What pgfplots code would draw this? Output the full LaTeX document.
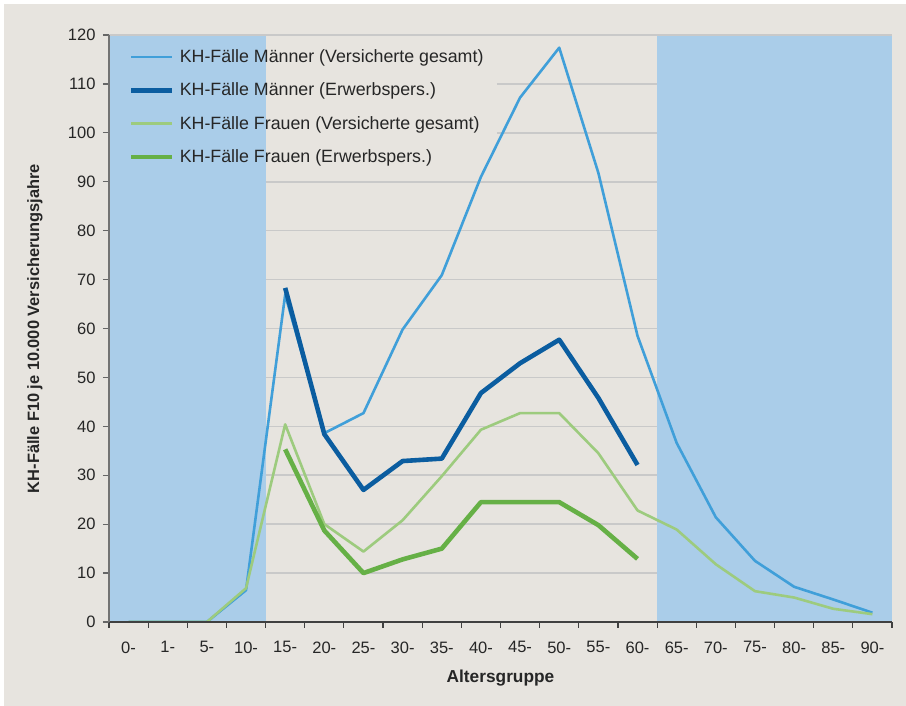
\documentclass[border=0pt]{standalone}
\usepackage{fontspec}
\setmainfont{Liberation Sans}
\usepackage{pgfplots}
\pgfplotsset{compat=1.18}
\definecolor{bgc}{HTML}{E7E4DF}
\definecolor{regc}{HTML}{AACDE9}
\definecolor{gridc}{HTML}{C9C9C9}
\definecolor{lblue}{HTML}{409FD9}
\definecolor{dblue}{HTML}{0B5DA0}
\definecolor{lgreen}{HTML}{9DCB7E}
\definecolor{dgreen}{HTML}{66B046}
\definecolor{txtc}{HTML}{262626}
\begin{document}
\begin{tikzpicture}[x=1pt,y=1pt]
\fill[white] (-109,-84) rectangle (797,622);
\fill[bgc] (-105,-84) rectangle (797,618);
\begin{axis}[
  at={(0,0)}, anchor=south west,
  scale only axis, width=783pt, height=587pt,
  xmin=-0.5, xmax=19.5, ymin=0, ymax=120,
  axis on top,
  axis x line*=bottom, axis y line*=left,
  x axis line style={-, draw=black!75, line width=1.3pt},
  y axis line style={-, draw=black!55, line width=1.3pt},
  xtick={0,...,19},
  xticklabels={0-,1-,5-,10-,15-,20-,25-,30-,35-,40-,45-,50-,55-,60-,65-,70-,75-,80-,85-,90-},
  major x tick style={draw=none},
  minor xtick={-0.5,0.5,...,19.5},
  minor x tick style={draw=black!75, line width=1.2pt},
  ytick={0,10,...,120},
  major y tick style={draw=black!60, line width=1.2pt},
  tick align=outside,
  major tick length=6pt, minor tick length=6pt,
  tick label style={font=\fontsize{16.5}{19}\selectfont, text=txtc},
  /pgf/number format/assume math mode=true,
  xticklabel style={yshift=-10pt},
  yticklabel style={xshift=-4pt},
  xlabel={\bfseries Altersgruppe},
  ylabel={\bfseries KH-Fälle F10 je 10.000 Versicherungsjahre},
  label style={text=txtc},
  xlabel style={font=\fontsize{17.3}{19}\selectfont, at={(axis description cs:0.5,-0.0954)}, anchor=center},
  ylabel style={font=\fontsize{16.4}{19}\selectfont, at={(axis description cs:-0.0945,0.5)}, anchor=center},
  legend style={at={(axis description cs:0,1)}, anchor=north west, xshift=17pt, yshift=-10.5pt,
    draw=none, fill=none, font=\fontsize{17.8}{20}\selectfont, text=txtc,
    row sep=15pt, cells={anchor=west}},
  legend image code/.code={\draw[#1] (0pt,0pt) -- (41pt,0pt); \path (44pt,0pt);},
]
\fill[regc] (axis cs:-0.5,0) rectangle (axis cs:3.5,120);
\fill[regc] (axis cs:13.5,0) rectangle (axis cs:19.5,120);
\draw[gridc, line width=1.6pt] (axis cs:3.5,10) -- (axis cs:13.5,10);
\draw[gridc, line width=1.6pt] (axis cs:3.5,20) -- (axis cs:13.5,20);
\draw[gridc, line width=1.6pt] (axis cs:3.5,30) -- (axis cs:13.5,30);
\draw[gridc, line width=1.6pt] (axis cs:3.5,40) -- (axis cs:13.5,40);
\draw[gridc, line width=1.6pt] (axis cs:3.5,50) -- (axis cs:13.5,50);
\draw[gridc, line width=1.6pt] (axis cs:3.5,60) -- (axis cs:13.5,60);
\draw[gridc, line width=1.6pt] (axis cs:3.5,70) -- (axis cs:13.5,70);
\draw[gridc, line width=1.6pt] (axis cs:3.5,80) -- (axis cs:13.5,80);
\draw[gridc, line width=1.6pt] (axis cs:3.5,90) -- (axis cs:13.5,90);
\draw[gridc, line width=1.6pt] (axis cs:9.41,100) -- (axis cs:13.5,100);
\draw[gridc, line width=1.6pt] (axis cs:9.41,110) -- (axis cs:13.5,110);
\draw[gridc, line width=1.2pt] (axis cs:-0.5,120) -- (axis cs:19.5,120);
\addplot[lblue, line width=2.6pt, line join=round] coordinates {
(0,0) (1,0) (2,0) (3,6.5) (4,66.9) (5,38.6) (6,42.7) (7,59.8) (8,70.9) (9,91)
(10,107.2) (11,117.4) (12,91.8) (13,58.5) (14,36.6) (15,21.4) (16,12.5) (17,7.2) (18,4.6) (19,1.9)};
\addlegendentry{KH-Fälle Männer (Versicherte gesamt)}
\addplot[dblue, line width=4.6pt, line join=round] coordinates {
(4,68.3) (5,38.4) (6,27) (7,32.9) (8,33.4) (9,46.8) (10,52.9) (11,57.7) (12,45.8) (13,32.1)};
\addlegendentry{KH-Fälle Männer (Erwerbspers.)}
\addplot[lgreen, line width=2.6pt, line join=round] coordinates {
(0,0) (1,0) (2,0) (3,6.9) (4,40.4) (5,20) (6,14.4) (7,20.8) (8,29.8) (9,39.3)
(10,42.7) (11,42.7) (12,34.5) (13,22.8) (14,18.9) (15,11.8) (16,6.3) (17,5) (18,2.7) (19,1.6)};
\addlegendentry{KH-Fälle Frauen (Versicherte gesamt)}
\addplot[dgreen, line width=4.6pt, line join=round] coordinates {
(4,35.3) (5,18.7) (6,10) (7,12.8) (8,15) (9,24.5) (10,24.5) (11,24.5) (12,19.8) (13,12.9)};
\addlegendentry{KH-Fälle Frauen (Erwerbspers.)}
\end{axis}
\end{tikzpicture}
\end{document}
